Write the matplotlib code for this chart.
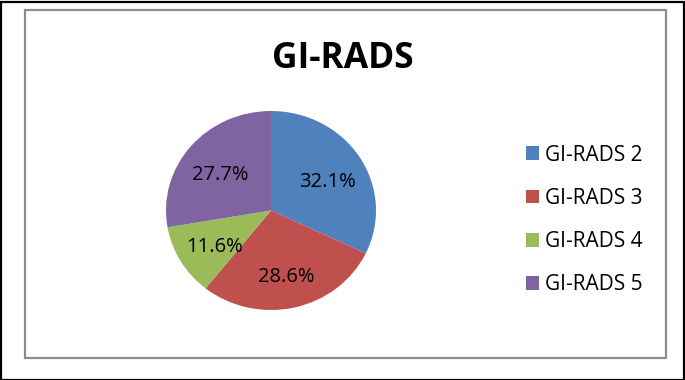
import matplotlib.pyplot as plt
from matplotlib.patches import Rectangle
from matplotlib.transforms import ScaledTranslation

# data
labels = ['GI-RADS 2', 'GI-RADS 3', 'GI-RADS 4', 'GI-RADS 5']
werte = [32.1, 28.6, 11.6, 27.7]
farben = ['#4F81BD', '#C0504D', '#9BBB59', '#8064A2']

plt.rcParams['font.family'] = ['Open Sans', 'DejaVu Sans']

fig = plt.figure(figsize=(6.85, 3.8), dpi=100)

# rahmen: aussen schwarz, innen grau
fig.patches.append(Rectangle((0.5/685, 0.5/380), 683/685, 378/380, transform=fig.transFigure,
                             fill=False, edgecolor='black', linewidth=1.6))
fig.patches.append(Rectangle((25/685, 22/380), 641/685, 348/380, transform=fig.transFigure,
                             fill=False, edgecolor='#8c8c8c', linewidth=1.6))

fig.text(343/685, 1 - 68/380, 'GI-RADS', ha='center', va='baseline',
         fontsize=25.5, fontweight='bold')

ax = fig.add_axes([166/685, 70/380, 210/685, 199/380])
wedges, texts, autotexts = ax.pie(werte, colors=farben, startangle=90, counterclock=False,
                                  autopct='%.1f%%', pctdistance=0.63,
                                  wedgeprops=dict(linewidth=0))
# etwas nach unten schieben wie im original
versatz = ScaledTranslation(0, -5/100, fig.dpi_scale_trans)
for t in autotexts:
    t.set_fontsize(14.5)
    t.set_color('black')
    t.set_transform(t.get_transform() + versatz)
ax.set_aspect('auto')
ax.set_xlim(-1, 1)
ax.set_ylim(-1, 1)

fig.legend(wedges, labels, loc='center left', bbox_to_anchor=(526/685, 1 - 220/380),
           frameon=False, fontsize=15, handlelength=0.62, handleheight=0.62,
           handletextpad=0.3, labelspacing=1.07, borderpad=0, borderaxespad=0)

plt.savefig('out.png', dpi=100)
